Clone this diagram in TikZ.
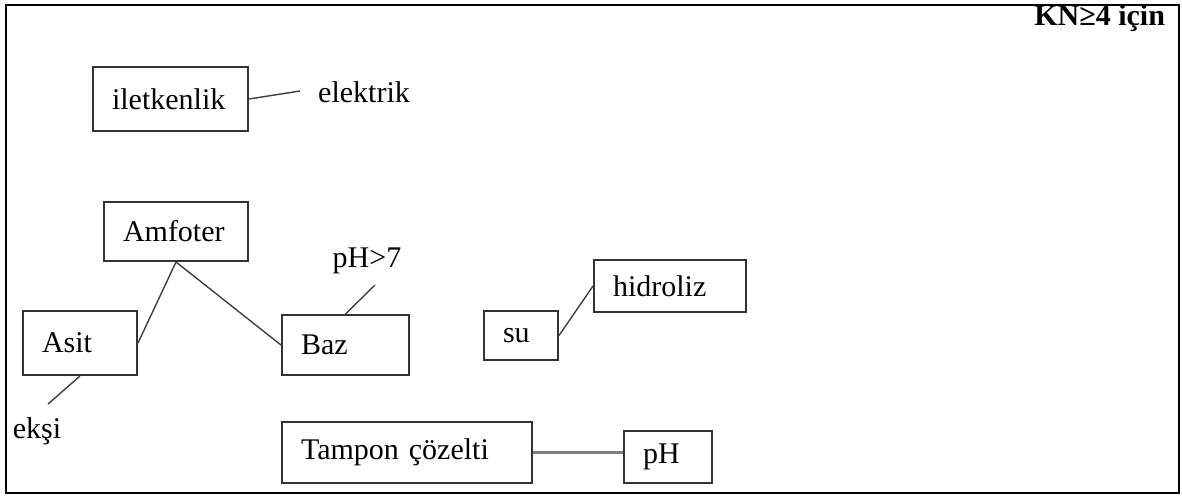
\documentclass[tikz,border=0pt]{standalone}
\usepackage{fontspec}
\setmainfont{Liberation Serif}

\tikzset{every picture/.style={x=0.5pt, y=-0.5pt, font=\fontsize{15}{18}\selectfont},
        kutu/.style 2 args={draw=black!80, line width=1pt, inner xsep=9.5pt, inner ysep=0pt, align=left, text width=#1, minimum height=#2},
        bag/.style={draw=black!75, line width=0.7pt},
        kalinBag/.style={draw=gray, line width=1.5pt}}

\begin{document}
\begin{tikzpicture}

\useasboundingbox (0,0) rectangle (1182,495);

% outer frame
\draw[line width=1pt] (6,5) rectangle (1179,493);

% draw boxes
\foreach \ad/\metin/\x/\y/\w/\h in {
    iletkenlik/iletkenlik/170.5/99/58.5/32,
    amfoter/Amfoter/176/231.5/53/29.5,
    asit/Asit/80/343/38/32,
    baz/Baz/345.5/345/44.5/30,
    su/su/521/335.5/18/24.5,
    hidroliz/hidroliz/670/286/57/26,
    tampon/Tampon çözelti/407/452.5/106/30.5,
    ph/pH/668/457/25/26} {
    \node[kutu={\w pt}{\h pt}] (\ad) at (\x,\y) {\metin};
}

% free labels
\node[anchor=base] (elektrik) at (364,102) {elektrik};
\node[anchor=base] (phBuyuk) at (367,267) {pH>7};
\node[anchor=base] (eksi) at (37,438) {ekşi};
\node[anchor=base east, font=\fontsize{15}{18}\selectfont\bfseries] (kn) at (1172,25) {KN≥4 için};

% loose ends of the short lines
\coordinate (elektrikUc) at (300,91);
\coordinate (phUc) at (375,285);
\coordinate (eksiUc) at (48,404);

% draw connections
\draw[bag] (iletkenlik.east) -- (elektrikUc);
\draw[bag] (amfoter.south) -- (asit.east);
\draw[bag] (amfoter.south) -- (baz.west);
\draw[bag] (baz.north) -- (phUc);
\draw[bag] (asit.south) -- (eksiUc);
\draw[bag] (su.east) -- (hidroliz.west);
\draw[kalinBag] (tampon.east) -- (tampon.east -| ph.west);

\end{tikzpicture}
\end{document}
